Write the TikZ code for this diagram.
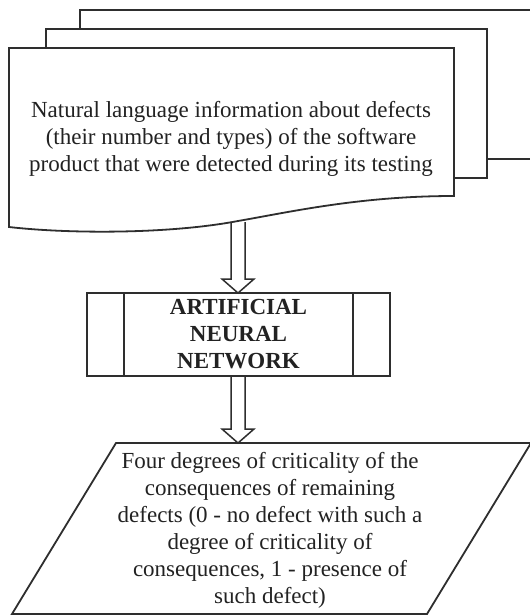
\documentclass[tikz,border=0pt]{standalone}
\usepackage{fontspec}
\setmainfont{Liberation Serif}
\usetikzlibrary{calc}
\definecolor{ink}{HTML}{222222}
\definecolor{edge}{HTML}{2E2E2E}
\tikzset{
  outline/.style={draw=edge, line width=1.8pt, fill=white},
  flow/.style={draw=edge, line width=1.5pt, line join=miter},
  bodytext/.style={text=ink, align=center, font=\fontsize{23}{27}\selectfont},
  process/.style={draw=edge, line width=1.8pt, fill=white, minimum width=303pt,
    minimum height=83pt, inner sep=0pt, text=ink, align=center,
    font=\fontsize{23}{27}\selectfont\bfseries},
}
% hollow block arrow pointing down from #1 to #2 (same x)
\newcommand\hollowdown[2]{%
  \draw[flow] ($(#1)+(-7,0)$) -- ($(#2)+(-7,-14)$) -- ($(#2)+(-16,-14)$) -- (#2)
    -- ($(#2)+(16,-14)$) -- ($(#2)+(7,-14)$) -- ($(#1)+(7,0)$);}
\begin{document}
\begin{tikzpicture}[x=1pt, y=-1pt]
  \useasboundingbox (0,0) rectangle (530,616);
  \clip (0,0) rectangle (530,616);
  \fill[white] (0,0) rectangle (530,616);

  % stacked documents
  \draw[outline] (80,10) rectangle (560,159);
  \draw[outline] (46,29) rectangle (487,178);
  \draw[outline] (9,48) -- (454,48) -- (454,196)
    .. controls (360,196) and (290,212) .. (238,221)
    .. controls (170,234) and (70,234) .. (9,227) -- cycle;
  \node[bodytext] (info) at (231,139)
    {Natural language information about defects\\
     (their number and types) of the software\\
     product that were detected during its testing};
  \coordinate (infoout) at (238,222);

  % neural network process box
  \node[process] (ann) at (238.5,334.5) {ARTIFICIAL\\NEURAL\\NETWORK};
  \draw[flow] ($(ann.north west)+(38,0)$) -- ($(ann.south west)+(38,0)$);
  \draw[flow] ($(ann.north east)+(-38,0)$) -- ($(ann.south east)+(-38,0)$);

  % output data
  \draw[outline] (116,443) -- (531,443) -- (427,614) -- (12,614) -- cycle;
  \node[bodytext] (out) at (270,530.5)
    {Four degrees of criticality of the\\
     consequences of remaining\\
     defects (0 - no defect with such a\\
     degree of criticality of\\
     consequences, 1 - presence of\\
     such defect)};
  \coordinate (outin) at (238,443);

  \coordinate (annin) at (238,293);
  \coordinate (annout) at (238,376);
  \hollowdown{infoout}{annin}
  \hollowdown{annout}{outin}
\end{tikzpicture}
\end{document}
